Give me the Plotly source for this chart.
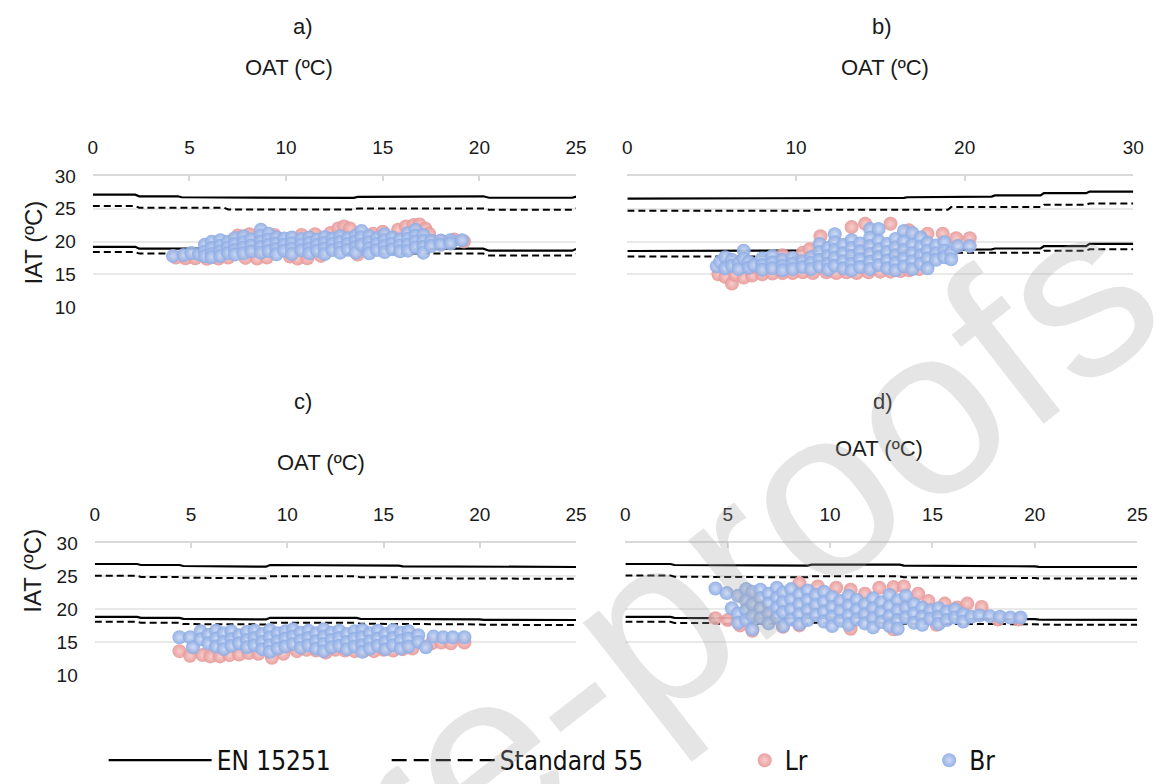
import plotly.graph_objects as go

W, H = 1166, 784

# ---------------- data ----------------
# comfort band lines (x = OAT, y = IAT limit)
A_LINE_X = [0, 2.2, 2.4, 4.4, 4.6, 6.8, 7.0, 13.5, 13.7, 15.8, 16.0, 20.2, 20.5, 24.8, 25]
A_EN_UP = [27.14, 27.14, 26.9, 26.9, 26.75, 26.75, 26.65, 26.65, 26.8, 26.8, 26.9, 26.9, 26.68, 26.68, 26.85]
A_EN_LO = [19.19, 19.19, 18.9, 18.9, 18.85, 18.85, 18.8, 18.8, 18.9, 18.9, 18.9, 18.9, 18.6, 18.6, 18.85]
A_S55_UP = [25.4, 25.4, 25.15, 25.15, 25.15, 25.15, 24.9, 24.9, 25.05, 25.05, 25.05, 25.05, 24.85, 24.85, 25.05]
A_S55_LO = [18.4, 18.4, 18.15, 18.15, 18.1, 18.1, 18.05, 18.05, 18.15, 18.15, 18.15, 18.15, 17.85, 17.85, 18.1]

B_LINE_X = [0, 10.8, 11.0, 16.4, 16.6, 19.0, 19.2, 21.6, 21.8, 24.5, 24.7, 27.2, 27.4, 30]
B_EN_UP = [26.55, 26.55, 26.65, 26.65, 26.75, 26.75, 26.85, 26.85, 27.04, 27.04, 27.38, 27.38, 27.6, 27.6]
B_EN_LO = [18.55, 18.55, 18.65, 18.65, 18.7, 18.7, 18.8, 18.8, 18.93, 18.93, 19.28, 19.28, 19.63, 19.63]
B_S55_UP = [24.7, 24.7, 24.85, 24.85, 24.85, 24.85, 25.25, 25.25, 25.25, 25.25, 25.6, 25.6, 25.8, 25.8]
B_S55_LO = [17.7, 17.7, 17.85, 17.85, 17.85, 17.85, 18.3, 18.3, 18.3, 18.3, 18.6, 18.6, 18.8, 18.8]

C_LINE_X = [0, 2.2, 2.4, 4.4, 4.6, 6.9, 7.1, 8.9, 9.1, 13.6, 13.8, 15.8, 16.0, 20.0, 20.2, 25]
C_EN_UP = [26.8, 26.8, 26.65, 26.65, 26.5, 26.5, 26.4, 26.4, 26.65, 26.65, 26.55, 26.55, 26.45, 26.45, 26.38, 26.35]
C_EN_LO = [18.8, 18.8, 18.65, 18.65, 18.5, 18.5, 18.4, 18.4, 18.65, 18.65, 18.5, 18.5, 18.4, 18.4, 18.35, 18.32]
C_S55_UP = [25.03, 25.03, 24.85, 24.85, 24.73, 24.73, 24.63, 24.63, 24.93, 24.93, 24.78, 24.78, 24.65, 24.65, 24.6, 24.55]
C_S55_LO = [18.05, 18.05, 17.9, 17.9, 17.7, 17.7, 17.65, 17.65, 17.9, 17.9, 17.75, 17.75, 17.65, 17.65, 17.6, 17.55]

D_LINE_X = [0, 2.2, 2.4, 4.4, 4.6, 8.9, 9.1, 13.4, 13.6, 15.8, 16.0, 20.0, 20.2, 25]
D_EN_UP = [26.8, 26.8, 26.65, 26.65, 26.55, 26.55, 26.7, 26.7, 26.55, 26.55, 26.45, 26.45, 26.38, 26.35]
D_EN_LO = [18.8, 18.8, 18.64, 18.64, 18.55, 18.55, 18.68, 18.68, 18.55, 18.55, 18.45, 18.45, 18.38, 18.35]
D_S55_UP = [25.07, 25.07, 24.88, 24.88, 24.78, 24.78, 24.93, 24.93, 24.78, 24.78, 24.68, 24.68, 24.62, 24.6]
D_S55_LO = [18.05, 18.05, 17.87, 17.87, 17.75, 17.75, 17.9, 17.9, 17.75, 17.75, 17.68, 17.68, 17.62, 17.6]

# measured points: (OAT, [IAT values at that OAT])
A_LR = [(4.3, [17.55]), (4.8, [17.45]), (5.3, [17.45]), (5.9, [17.35]), (6.5, [17.4, 18.6]),
        (7.0, [17.55]), (7.5, [20.9]), (7.9, [17.5, 19.0]), (8.1, [21.1]), (8.5, [17.4]),
        (9.0, [17.55]), (9.4, [21.0]), (9.5, [19.3]), (10.2, [17.7]), (10.6, [17.4]),
        (10.8, [21.0]), (11.0, [19.0]), (11.1, [17.45]), (11.5, [21.1]), (11.8, [17.8]),
        (12.3, [21.3]), (12.5, [19.3]), (12.7, [22.0]), (13.0, [22.3]), (13.3, [22.0]),
        (13.7, [18.0]), (14.0, [19.5]), (14.5, [21.2]), (15.0, [21.5]), (15.5, [19.5]),
        (15.8, [21.8]), (16.2, [22.3]), (16.5, [20.5]), (16.6, [22.5]), (16.9, [22.6]),
        (17.2, [22.0]), (17.4, [21.2]), (17.6, [20.0]), (18.1, [20.0]), (18.7, [20.3]), (19.2, [20.0])]
A_BR = [(4.15, [17.8]), (4.7, [17.95]), (5.1, [18.25]), (5.5, [18.05]),
        (5.8, [19.5, 18.45, 17.75]), (6.15, [19.95, 19.0, 18.1, 17.6]), (6.6, [20.2, 19.35, 18.5, 17.8]),
        (7.0, [19.95, 19.1, 18.25]), (7.35, [20.5, 19.6, 18.7, 18.0]), (7.8, [20.8, 19.9, 19.05, 18.2]),
        (8.2, [20.35, 19.4, 18.5]), (8.7, [21.8, 20.9, 20.0, 19.15, 18.3]), (9.1, [21.2, 20.3, 19.45, 18.55]),
        (9.5, [20.6, 19.7, 18.85, 18.05]), (9.9, [20.45, 19.5, 18.6]), (10.3, [20.6, 19.75, 18.9, 18.1]),
        (10.8, [20.4, 19.55, 18.65]), (11.2, [20.6, 19.8, 18.95, 18.2]), (11.6, [20.3, 19.45, 18.6]),
        (12.0, [20.7, 19.8, 18.95, 18.1]), (12.4, [20.45, 19.6, 18.7]), (12.8, [20.8, 19.95, 19.05, 18.3]),
        (13.2, [20.5, 19.6, 18.75]), (13.6, [20.9, 20.05, 19.15, 18.3]), (13.9, [21.6, 20.65, 19.5]),
        (14.3, [20.8, 19.9, 19.0, 18.2]), (14.7, [20.5, 19.6, 18.7]), (15.1, [21.1, 20.2, 19.3, 18.4]),
        (15.5, [20.6, 19.7, 18.8]), (15.9, [20.3, 19.4, 18.5]), (16.3, [21.3, 20.4, 19.5, 18.6]),
        (16.7, [21.8, 20.9, 20.0, 19.1]), (17.1, [21.0, 20.1, 19.2, 18.3]), (17.5, [20.1, 19.3]),
        (18.0, [20.15, 19.5]), (18.5, [20.2, 19.7]), (19.1, [20.2])]

B_LR = [(5.4, [15.0]), (5.8, [14.6]), (6.2, [13.6]), (6.4, [14.9]), (6.9, [14.5]), (7.4, [14.8, 16.1]),
        (8.0, [15.0]), (8.6, [15.1]), (9.2, [15.2, 17.9]), (9.8, [15.2]), (10.4, [15.3, 18.3]),
        (10.8, [18.8]), (11.0, [15.2]), (11.45, [20.8]), (11.8, [15.3]), (12.0, [18.0]), (12.4, [15.2]),
        (13.0, [15.3]), (13.3, [22.2]), (13.6, [15.2]), (14.0, [19.0]), (14.1, [22.7]), (14.3, [15.3]),
        (15.0, [15.4]), (15.6, [22.7, 15.4]), (16.0, [19.5]), (16.2, [15.5]), (16.7, [21.7, 15.6]),
        (17.3, [15.8]), (17.8, [21.2]), (18.0, [18.5]), (18.7, [21.2]), (19.5, [20.5]), (20.3, [20.5])]
B_BR = [(5.3, [16.2]), (5.5, [16.9]), (5.8, [17.6, 15.9]), (6.2, [17.2, 16.3]), (6.6, [16.7, 15.8]),
        (6.9, [18.6, 17.4]), (7.2, [16.9, 16.0]), (7.5, [16.4]), (8.0, [17.4, 16.4, 15.7]),
        (8.6, [17.8, 16.8, 15.9]), (9.2, [17.2, 16.3, 15.6]), (9.8, [17.5, 16.6, 15.8]), (10.4, [17.0, 16.1]),
        (10.9, [17.6, 16.7, 15.8]), (11.4, [19.6, 18.4, 17.2, 16.2]), (11.9, [19.0, 17.8, 16.6, 15.7]),
        (12.3, [21.1, 19.9, 18.7, 17.5, 16.3]), (12.8, [19.5, 18.2, 17.0, 15.9]),
        (13.3, [20.2, 19.0, 17.8, 16.6, 15.6]), (13.8, [19.7, 18.5, 17.3, 16.1]),
        (14.4, [21.9, 20.6, 19.3, 18.1, 16.9, 15.8]), (14.9, [21.9, 20.1, 18.8, 17.6, 16.4]),
        (15.4, [19.6, 18.4, 17.1, 15.9]), (15.9, [20.4, 19.1, 17.9, 16.7, 15.6]),
        (16.4, [21.6, 20.0, 18.7, 17.4, 16.2]), (16.9, [21.3, 19.5, 18.2, 17.0, 15.8]),
        (17.4, [20.6, 19.2, 17.9, 16.6]), (17.8, [19.8, 18.6, 17.4, 15.9]), (18.3, [19.4, 18.2, 17.2]),
        (18.8, [19.9, 18.6, 17.6]), (19.2, [18.3, 17.3]), (19.6, [19.3]), (20.3, [19.3])]

C_LR = [(4.4, [13.6]), (4.95, [12.9]), (5.6, [13.0]), (6.0, [12.8]), (6.5, [12.8]), (7.0, [13.0]),
        (7.5, [13.1]), (8.0, [13.3]), (8.5, [13.2]), (9.2, [12.6]), (9.8, [13.2]), (10.5, [13.6]),
        (11.0, [13.8]), (11.5, [13.7]), (12.0, [13.4]), (12.5, [13.8]), (13.0, [13.7]), (13.5, [13.6]),
        (14.0, [13.7]), (14.5, [13.6]), (15.0, [13.8]), (15.5, [13.7]), (16.0, [13.9]), (16.5, [14.0]),
        (17.5, [14.8]), (18.0, [14.9]), (18.5, [14.8]), (19.2, [14.9])]
C_BR = [(4.4, [15.7]), (4.95, [15.7]), (5.1, [14.2]), (5.5, [16.6, 15.4]), (5.9, [16.1, 14.8]),
        (6.3, [16.7, 15.5, 14.3]), (6.7, [16.3, 15.0, 13.9]), (7.1, [16.6, 15.4, 14.4]), (7.5, [16.0, 14.8]),
        (7.9, [16.5, 15.3, 14.2]), (8.3, [16.7, 15.6, 14.5]), (8.7, [16.2, 15.0, 13.9]),
        (9.1, [16.8, 15.7, 14.5, 13.5]), (9.5, [16.3, 15.1, 14.0]), (9.9, [16.6, 15.5, 14.3]),
        (10.3, [16.9, 15.8, 14.7]), (10.7, [16.4, 15.2, 14.1]), (11.1, [16.7, 15.6, 14.5]),
        (11.5, [16.3, 15.1, 14.0]), (11.9, [16.9, 15.8, 14.7, 13.6]), (12.3, [16.4, 15.3, 14.2]),
        (12.7, [16.7, 15.6, 14.4]), (13.1, [16.2, 15.0, 13.9]), (13.5, [16.6, 15.5, 14.3]),
        (13.9, [16.8, 15.7, 14.5, 13.5]), (14.3, [16.3, 15.1, 14.0]), (14.7, [16.7, 15.5, 14.4]),
        (15.1, [16.2, 15.0, 13.9]), (15.5, [16.8, 15.6, 14.5]), (15.9, [16.4, 15.2, 14.0]),
        (16.3, [16.6, 15.5, 14.3]), (16.8, [16.0, 15.0]), (17.2, [14.2]), (17.6, [15.8]),
        (18.1, [15.7]), (18.6, [15.7]), (19.2, [15.7])]

D_LR = [(4.4, [18.6]), (5.0, [18.3]), (5.6, [17.5]), (6.2, [16.7]), (7.0, [19.5]), (7.7, [17.3]),
        (8.5, [23.9, 17.5]), (9.0, [20.0]), (9.4, [23.4]), (10.3, [23.2]), (10.5, [20.5]),
        (11.0, [22.9, 17.0]), (11.7, [22.3]), (12.0, [19.5]), (12.4, [23.2]), (13.1, [23.3, 16.9]),
        (13.5, [20.5]), (13.6, [23.4]), (14.3, [22.3]), (14.8, [21.2]), (15.0, [19.0]), (15.2, [17.6]),
        (15.6, [20.8]), (16.2, [20.2]), (16.7, [20.8]), (17.4, [20.3]), (18.2, [18.4]), (19.2, [18.4])]
D_BR = [(4.4, [23.1]), (4.95, [22.4]), (5.2, [20.1]), (5.5, [22.0, 19.3, 17.9]),
        (5.9, [23.0, 21.3, 19.8, 18.3]), (6.2, [22.6, 20.7, 18.9, 16.9]), (6.6, [22.9, 21.6, 20.1, 18.6]),
        (7.0, [22.3, 20.8, 19.3, 17.8]), (7.4, [23.2, 21.7, 20.2, 18.7]), (7.7, [22.5, 21.0, 19.5, 17.4]),
        (8.1, [23.0, 21.4, 19.9, 18.4]), (8.5, [22.2, 20.7, 19.2, 17.7]), (8.9, [22.8, 21.3, 19.8, 18.3]),
        (9.3, [22.1, 20.6, 19.1]), (9.7, [22.6, 21.1, 19.6, 18.1]), (10.1, [21.8, 20.3, 18.8, 17.4]),
        (10.5, [21.2, 19.7, 18.2]), (10.9, [22.0, 20.5, 19.0, 17.6]), (11.3, [21.4, 19.9, 18.4]),
        (11.7, [20.7, 19.2, 17.8]), (12.1, [21.6, 20.1, 18.6, 17.2]), (12.5, [21.0, 19.5, 18.0]),
        (12.9, [22.1, 20.4, 18.9, 17.4]), (13.3, [21.3, 19.8, 18.3, 17.0]), (13.7, [22.0, 20.2, 18.7]),
        (14.1, [20.7, 19.3, 17.9]), (14.5, [20.2, 18.8, 17.6]), (14.9, [19.8, 18.5]),
        (15.3, [20.1, 18.8, 17.7]), (15.7, [19.6, 18.3]), (16.1, [19.9, 18.7]), (16.5, [19.2, 18.1]),
        (16.9, [18.8]), (17.3, [19.0]), (17.8, [18.9]), (18.3, [18.8]), (18.8, [18.7]), (19.3, [18.7])]

X_TICKS_25 = [0, 5, 10, 15, 20, 25]
X_TICKS_30 = [0, 10, 20, 30]
Y_TICKS = [10, 15, 20, 25, 30]

# ---------------- helpers ----------------
def flat(cols):
    xs, ys = [], []
    for x, yl in cols:
        for y in yl:
            xs.append(x)
            ys.append(y)
    return xs, ys

def px(v):
    return v / W

def py(v):
    return 1 - v / H

TXT = "Liberation Sans, Arial, sans-serif"
NARROW = "Liberation Sans Narrow, DejaVu Sans Condensed, Arial Narrow, sans-serif"

panels = [
    ("", A_LINE_X, A_EN_UP, A_EN_LO, A_S55_UP, A_S55_LO, A_LR, A_BR, 25, X_TICKS_25, (89, 579, 171, 306), True),
    ("2", B_LINE_X, B_EN_UP, B_EN_LO, B_S55_UP, B_S55_LO, B_LR, B_BR, 30, X_TICKS_30, (631, 1144, 171, 306), False),
    ("3", C_LINE_X, C_EN_UP, C_EN_LO, C_S55_UP, C_S55_LO, C_LR, C_BR, 25, X_TICKS_25, (91, 579, 549, 685), True),
    ("4", D_LINE_X, D_EN_UP, D_EN_LO, D_S55_UP, D_S55_LO, D_LR, D_BR, 25, X_TICKS_25, (629, 1148, 549, 685), False),
]

fig = go.Figure()
layout_axes = {}

BLUE = dict(color="#8CABE4", gradient=dict(type="radial", color="#CBD8F3"))
PINK = dict(color="#E79898", gradient=dict(type="radial", color="#F6C8C8"))
MSIZE = 14

for i, (sfx, lx, en_up, en_lo, s_up, s_lo, lr, br, xmax, xt, box, showy) in enumerate(panels):
    xa, ya = "x" + sfx, "y" + sfx
    for yv in [en_up, en_lo]:
        fig.add_trace(go.Scatter(x=lx, y=yv, mode="lines", xaxis=xa, yaxis=ya,
                                 line=dict(color="black", width=2.2), name="EN 15251",
                                 showlegend=False, hoverinfo="skip"))
    for yv in [s_up, s_lo]:
        fig.add_trace(go.Scatter(x=lx, y=yv, mode="lines", xaxis=xa, yaxis=ya,
                                 line=dict(color="black", width=2.0, dash="7px,4px"), name="Standard 55",
                                 showlegend=False, hoverinfo="skip"))
    lx_, ly_ = flat(lr)
    fig.add_trace(go.Scatter(x=lx_, y=ly_, mode="markers", xaxis=xa, yaxis=ya, name="Lr",
                             legend="legend3", showlegend=(i == 0),
                             marker=dict(size=MSIZE, opacity=0.92, line=dict(width=0), **PINK)))
    bx_, by_ = flat(br)
    fig.add_trace(go.Scatter(x=bx_, y=by_, mode="markers", xaxis=xa, yaxis=ya, name="Br",
                             legend="legend4", showlegend=(i == 0),
                             marker=dict(size=MSIZE, opacity=0.92, line=dict(width=0), **BLUE)))

    l, r, t, b = box
    layout_axes["xaxis" + sfx] = dict(
        domain=[px(l), px(r)], range=[0, xmax], anchor=ya, side="top",
        tickvals=xt, showgrid=False, zeroline=False, showline=True, linecolor="#d9d9d9", linewidth=1.5,
        ticks="inside", ticklen=5, tickcolor="#d9d9d9", tickwidth=1.5,
        tickfont=dict(family=TXT, size=19, color="#1a1a1a"), ticklabelstandoff=13, fixedrange=True)
    layout_axes["yaxis" + sfx] = dict(
        domain=[py(b), py(t)], range=[10, 30], anchor=xa, tickvals=Y_TICKS,
        showgrid=True, gridcolor="#e9e9e9", gridwidth=1.5, zeroline=False, showline=False,
        showticklabels=showy, ticks="", tickfont=dict(family=TXT, size=19, color="#1a1a1a"),
        ticklabelstandoff=16, fixedrange=True)

# legend-only proxies for the line styles (legend sample dash is longer than in the plots)
fig.add_trace(go.Scatter(x=[None], y=[None], mode="lines", name="EN 15251", legend="legend",
                         line=dict(color="black", width=2.2), hoverinfo="skip"))
fig.add_trace(go.Scatter(x=[None], y=[None], mode="lines", name="Standard 55", legend="legend2",
                         line=dict(color="black", width=2.2, dash="15px,7px"), hoverinfo="skip"))

TITLE_FONT = dict(family=TXT, size=22, color="#1a1a1a")
ann = []
for txt, cx, cy in [("a)", 302, 17), ("OAT (ºC)", 288, 59), ("b)", 889, 17), ("OAT (ºC)", 892, 59),
                    ("c)", 302, 403), ("OAT (ºC)", 320, 466), ("d)", 890, 403), ("OAT (ºC)", 886, 452)]:
    ann.append(dict(text=txt, x=px(cx), y=py(cy), xref="paper", yref="paper", showarrow=False,
                    xanchor="center", yanchor="middle", font=TITLE_FONT))
for cx, cy in [(29, 240), (27, 578)]:
    ann.append(dict(text="IAT (ºC)", x=px(cx), y=py(cy), xref="paper", yref="paper", showarrow=False,
                    xanchor="center", yanchor="middle", textangle=-90,
                    font=dict(family=TXT, size=24, color="#1a1a1a")))
# watermark
ann.append(dict(text="Journal Pre-proofs", x=px(345), y=py(880), xref="paper", yref="paper",
                showarrow=False, xanchor="center", yanchor="middle", textangle=-38,
                font=dict(family=TXT, size=240, color="rgba(160,160,160,0.28)")))

LEG_FONT = dict(family=NARROW, size=26, color="#111111")
def leg(xpx, wid):
    return dict(x=px(xpx), y=py(773), xanchor="left", yanchor="middle", orientation="h",
                itemwidth=wid, font=LEG_FONT, bgcolor="rgba(0,0,0,0)", borderwidth=0,
                itemclick=False, itemdoubleclick=False)

fig.update_layout(
    width=W, height=H, margin=dict(l=0, r=0, t=0, b=0),
    paper_bgcolor="white", plot_bgcolor="white",
    annotations=ann,
    legend=leg(100, 103), legend2=leg(387, 103), legend3=leg(750, 30), legend4=leg(937, 30),
    **layout_axes)

fig.write_html("out.html")
